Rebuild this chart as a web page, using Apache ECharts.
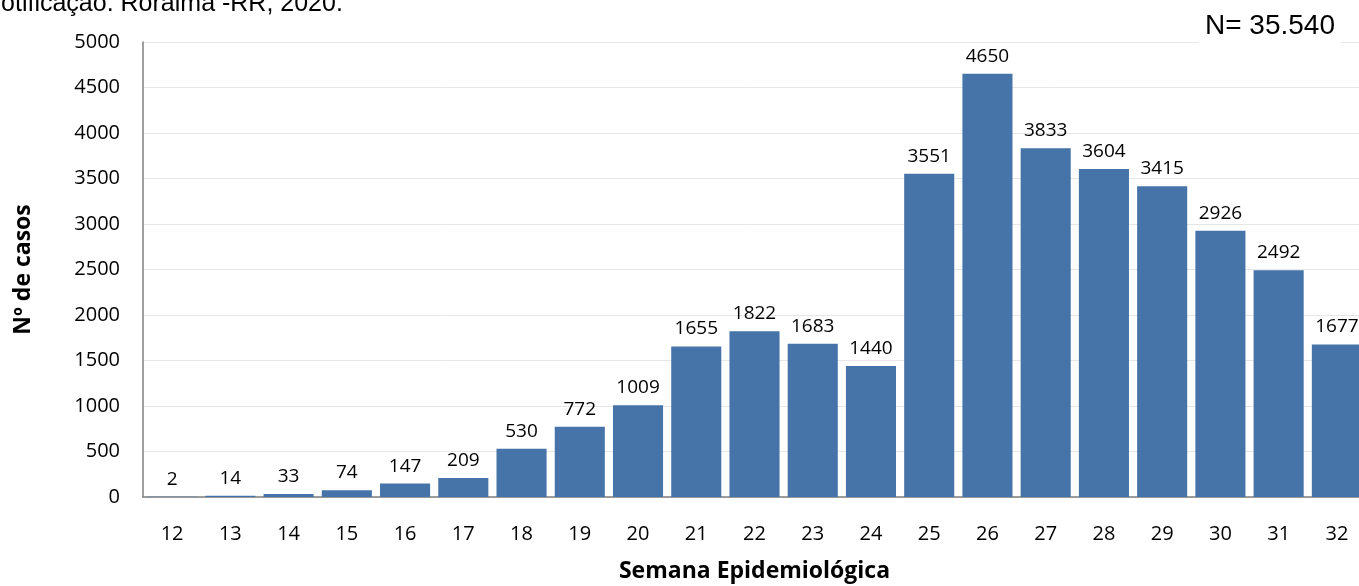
<!DOCTYPE html>
<html lang="pt">
<head>
	<meta charset="UTF-8">
	<title>Casos por semana epidemiológica</title>
	<style>
		html,body{margin:0;padding:0;background:#fff;overflow:hidden;}
		#main{width:1359px;height:586px;}
	</style>
</head>
<body>
	<div id="main"></div>
	<script src="https://cdn.jsdelivr.net/npm/echarts@6/dist/echarts.min.js"></script>
	<script>
		var semanas = ['12','13','14','15','16','17','18','19','20','21','22','23','24','25','26','27','28','29','30','31','32'];
		var casos = [2, 14, 33, 74, 147, 209, 530, 772, 1009, 1655, 1822, 1683, 1440, 3551, 4650, 3833, 3604, 3415, 2926, 2492, 1677];
		var yTicks = [0, 500, 1000, 1500, 2000, 2500, 3000, 3500, 4000, 4500, 5000];

		var chart = echarts.init(document.getElementById('main'));
		var fonte = '"Open Sans", sans-serif';

		chart.setOption({
			animation: false,
			title: [{
				text: 'Notificação. Roraima -RR, 2020.',
				left: -22,
				top: -13,
				textStyle: {fontFamily: 'Liberation Sans, Arial', fontWeight: 'normal', fontSize: 25, color: '#000'}
			}, {
				text: 'N= 35.540',
				right: 18,
				top: 8,
				backgroundColor: '#fff',
				padding: [4, 6, 4, 6],
				textStyle: {fontFamily: 'Liberation Sans, Arial', fontWeight: 'normal', fontSize: 28, color: '#000'}
			}],
			grid: {left: 143, right: -7, top: 42, bottom: 89, outerBoundsMode: 'none'},
			xAxis: {
				type: 'category',
				data: semanas,
				name: 'Semana Epidemiológica',
				nameLocation: 'middle',
				nameGap: 63,
				nameTextStyle: {fontFamily: fonte, fontWeight: 'bold', fontSize: 23, color: '#000'},
				axisLine: {lineStyle: {color: '#7f7f7f', width: 1.5}},
				axisTick: {show: false},
				axisLabel: {fontFamily: fonte, fontSize: 20, color: '#000', margin: 27}
			},
			yAxis: {
				type: 'value',
				min: yTicks[0],
				max: yTicks[yTicks.length - 1],
				interval: 500,
				name: 'Nº de casos',
				nameLocation: 'middle',
				nameGap: 108,
				nameRotate: 90,
				nameTextStyle: {fontFamily: fonte, fontWeight: 'bold', fontSize: 23, color: '#000'},
				axisLine: {show: true, lineStyle: {color: '#7f7f7f', width: 1.5}},
				axisTick: {show: false},
				axisLabel: {fontFamily: fonte, fontSize: 20, color: '#000', margin: 23, formatter: function (v) { return String(v); }},
				splitLine: {lineStyle: {color: '#e6e6e6', width: 1}}
			},
			series: [{
				type: 'bar',
				data: casos,
				barCategoryGap: '14%',
				itemStyle: {color: '#4674a8'},
				label: {
					show: true,
					position: 'top',
					distance: 8,
					fontFamily: fonte,
					fontSize: 19,
					color: '#000'
				}
			}]
		});
	</script>
</body>
</html>
